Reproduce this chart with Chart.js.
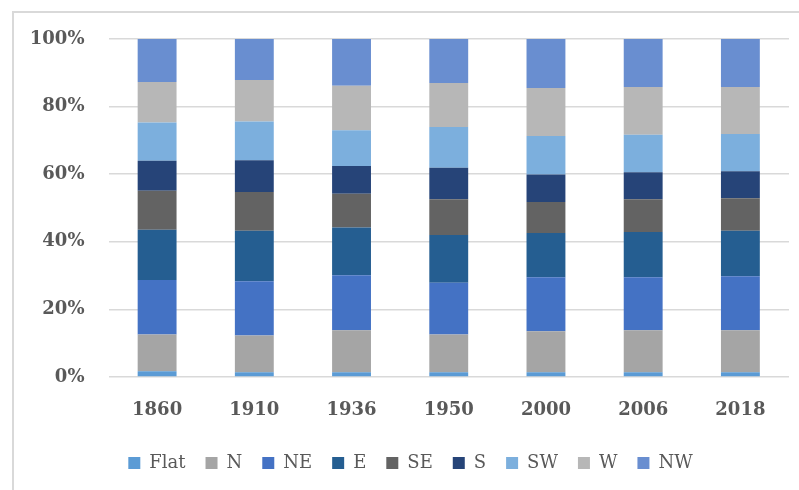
<!DOCTYPE html>
<html>
<head>
<meta charset="utf-8">
<script src="https://cdn.jsdelivr.net/npm/chart.js@4.4.1/dist/chart.umd.min.js"></script>
<style>
  html, body { margin: 0; padding: 0; background: #fff; }
  #wrap { position: relative; width: 799px; height: 490px; }
</style>
</head>
<body>
<div id="wrap"><canvas id="chart" width="799" height="490"></canvas></div>
<script>
// años y orientaciones
const years = ['1860', '1910', '1936', '1950', '2000', '2006', '2018'];
const aspects = ['Flat', 'N', 'NE', 'E', 'SE', 'S', 'SW', 'W', 'NW'];
const aspectColors = ['#5B9BD5', '#A5A5A5', '#4472C4', '#255E91', '#636363', '#264478', '#7CAFDD', '#B7B7B7', '#698ED0'];

// porcentaje por orientación (una lista por serie, en orden de años)
const flat = [1.7, 1.4, 1.4, 1.4, 1.4, 1.4, 1.4];
const north = [10.9, 10.9, 12.4, 11.2, 12.1, 12.4, 12.4];
const northEast = [16.1, 16.0, 16.3, 15.3, 16.0, 15.7, 16.0];
const east = [14.9, 15.0, 14.1, 14.1, 13.1, 13.4, 13.5];
const southEast = [11.5, 11.4, 10.0, 10.6, 9.2, 9.7, 9.6];
const south = [8.9, 9.4, 8.2, 9.3, 8.1, 8.0, 8.0];
const southWest = [11.3, 11.5, 10.6, 12.1, 11.4, 11.1, 11.0];
const west = [12.0, 12.3, 13.2, 13.0, 14.2, 14.1, 13.9];
const northWest = [12.7, 12.1, 13.8, 13.0, 14.5, 14.2, 14.2];

const seriesValues = [flat, north, northEast, east, southEast, south, southWest, west, northWest];

const tickFont = { family: '"DejaVu Serif", serif', size: 18, weight: 'bold' };
const legendFont = { family: '"DejaVu Serif", serif', size: 18 };

// marco gris del área del gráfico + leyenda algo desplazada a la derecha
const frame = {
    id: 'frame',
    afterLayout(chart) {
        chart.legend.left += 32;
    },
    beforeDraw(chart) {
        const ctx = chart.ctx;
        ctx.save();
        ctx.strokeStyle = '#d9d9d9';
        ctx.lineWidth = 2;
        ctx.strokeRect(13, 12, 820, 520);
        ctx.restore();
    }
};

new Chart(document.getElementById('chart'), {
    type: 'bar',
    data: {
        labels: years,
        datasets: aspects.map((name, i) => ({
            label: name,
            data: seriesValues[i],
            backgroundColor: aspectColors[i],
            borderWidth: 0,
            barPercentage: 0.4,
            categoryPercentage: 1
        }))
    },
    options: {
        responsive: false,
        animation: false,
        layout: { padding: { left: 0, right: 10, top: 39, bottom: 8 } },
        scales: {
            x: {
                stacked: true,
                grid: { display: false },
                border: { display: false },
                ticks: { color: '#595959', font: tickFont, padding: 15 },
                afterFit: (scale) => { scale.height = 57; }
            },
            y: {
                stacked: true,
                min: 0,
                max: 100,
                grid: { color: '#d9d9d9', lineWidth: 1.5, drawTicks: false },
                border: { display: false },
                ticks: {
                    stepSize: 20,
                    color: '#595959',
                    font: tickFont,
                    padding: 24,
                    callback: (v) => v + '%'
                },
                afterFit: (scale) => { scale.width = 108.5; }
            }
        },
        plugins: {
            legend: {
                position: 'bottom',
                labels: {
                    font: legendFont,
                    color: '#595959',
                    boxWidth: 12,
                    boxHeight: 12,
                    padding: 20
                }
            },
            tooltip: { enabled: false }
        }
    },
    plugins: [frame]
});
</script>
</body>
</html>
